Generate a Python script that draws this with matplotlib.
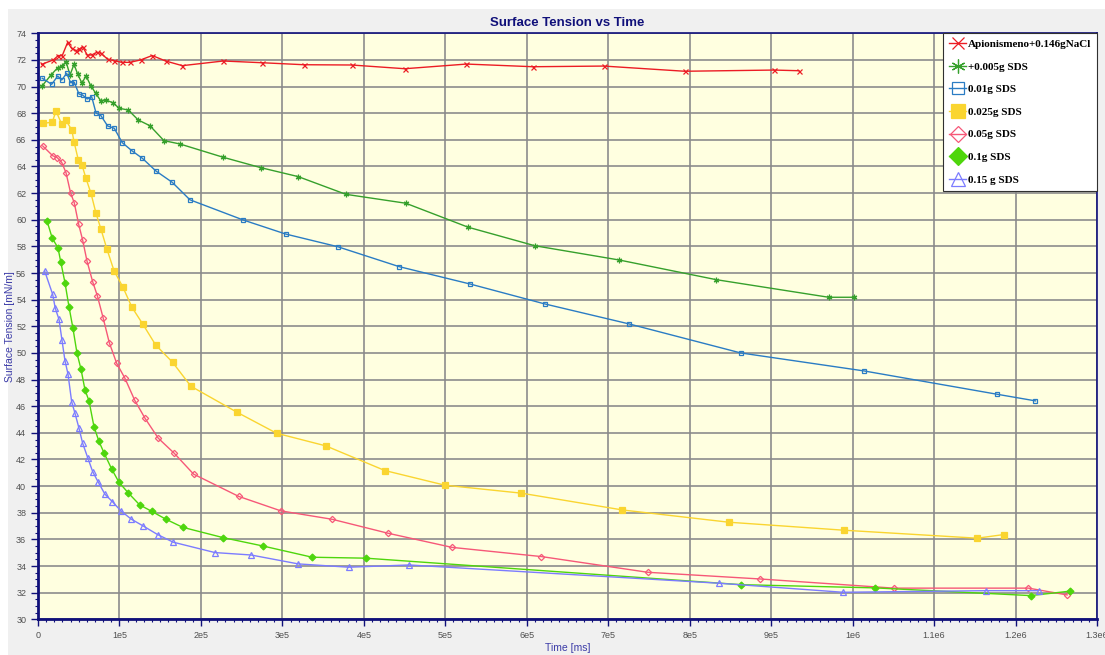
# plot.py  -  Surface Tension vs Time

import numpy as np
import matplotlib
matplotlib.use("Agg")
import matplotlib.pyplot as plt
from matplotlib.ticker import MultipleLocator
from matplotlib.patches import Rectangle

# data (time in ms, surface tension in mN/m) ######################################################
t_nacl = [4.5e3, 18.8e3, 24.9e3, 29.8e3, 36.4e3, 41.3e3, 46.6e3, 50.7e3, 54.8e3, 60.5e3, 65.9e3,
          72.0e3, 77.3e3, 85.5e3, 93.6e3, 102.7e3, 112.9e3, 126.0e3, 140.2e3, 156.7e3, 177.1e3,
          227.4e3, 275.2e3, 326.4e3, 384.9e3, 450.3e3, 526.0e3, 607.7e3, 694.5e3, 793.9e3,
          903.1e3, 934.1e3]
st_nacl = [71.67, 72.0, 72.33, 72.33, 73.32, 72.87, 72.69, 72.82, 72.99, 72.37, 72.37,
           72.57, 72.50, 72.05, 71.94, 71.82, 71.82, 72.0, 72.33, 71.92, 71.57,
           71.92, 71.79, 71.64, 71.62, 71.34, 71.69, 71.49, 71.54, 71.15,
           71.24, 71.19]

t_005 = [5.3e3, 16.0e3, 24.2e3, 29.1e3, 34.4e3, 39.3e3, 44.2e3, 48.7e3, 54.0e3, 58.9e3, 64.7e3,
         70.8e3, 76.9e3, 83.4e3, 91.7e3, 99.8e3, 110.8e3, 123.1e3, 137.4e3, 154.6e3, 174.2e3,
         227.4e3, 273.6e3, 319.4e3, 377.9e3, 451.5e3, 528.0e3, 609.8e3, 713.3e3, 832.7e3,
         970.6e3, 1001.6e3]
st_005 = [70.07, 70.87, 71.42, 71.52, 71.87, 70.87, 71.67, 70.94, 70.25, 70.82, 70.07,
          69.5, 68.94, 68.99, 68.79, 68.37, 68.24, 67.49, 67.06, 65.94, 65.69,
          64.69, 63.91, 63.24, 61.91, 61.24, 59.44, 58.05, 56.98, 55.5,
          54.18, 54.18]

t_01 = [5.3e3, 16.8e3, 24.2e3, 29.1e3, 35.2e3, 40.1e3, 44.5e3, 50.3e3, 54.8e3, 60.5e3, 65.9e3,
        71.2e3, 77.3e3, 85.5e3, 93.6e3, 103.4e3, 115.7e3, 128.2e3, 144.8e3, 164.8e3, 186.5e3,
        252.0e3, 303.9e3, 367.7e3, 443.3e3, 530.1e3, 622.1e3, 725.5e3, 862.6e3, 1013.9e3,
        1177.1e3, 1224.5e3]
st_01 = [70.62, 70.17, 70.79, 70.49, 71.0, 70.29, 70.32, 69.44, 69.36, 69.07, 69.24,
         68.02, 67.81, 67.04, 66.87, 65.79, 65.16, 64.61, 63.66, 62.81, 61.5,
         59.98, 58.93, 57.98, 56.48, 55.18, 53.68, 52.18, 50.0, 48.65,
         46.9, 46.4]

t_025 = [5.8e3, 17.5e3, 22.1e3, 29.1e3, 34.0e3, 41.5e3, 44.2e3, 49.5e3, 54.0e3, 58.9e3, 65.0e3,
         71.2e3, 77.3e3, 84.7e3, 93.3e3, 104.3e3, 115.3e3, 128.8e3, 144.4e3, 165.2e3, 187.7e3,
         244.2e3, 292.9e3, 353.4e3, 425.8e3, 499.4e3, 593.5e3, 717.4e3, 847.9e3, 989.0e3,
         1153.0e3, 1185.3e3]
st_025 = [67.24, 67.32, 68.17, 67.17, 67.49, 66.74, 65.86, 64.49, 64.11, 63.11, 61.99,
          60.49, 59.29, 57.78, 56.18, 54.93, 53.43, 52.15, 50.6, 49.3, 47.5,
          45.55, 43.97, 43.02, 41.17, 40.07, 39.47, 38.21, 37.29, 36.69,
          36.09, 36.36]

t_05 = [5.8e3, 18.0e3, 23.6e3, 29.1e3, 34.4e3, 40.1e3, 44.5e3, 49.9e3, 54.8e3, 60.1e3, 67.1e3,
        72.8e3, 80.1e3, 87.5e3, 96.6e3, 106.7e3, 118.7e3, 131.3e3, 147.6e3, 167.2e3, 191.0e3,
        246.3e3, 298.2e3, 361.1e3, 429.8e3, 508.3e3, 618.0e3, 748.5e3, 885.9e3, 1050.6e3,
        1215.9e3, 1263.4e3]
st_05 = [65.54, 64.81, 64.66, 64.31, 63.53, 61.99, 61.28, 59.66, 58.48, 56.91, 55.35,
         54.3, 52.6, 50.77, 49.22, 48.1, 46.45, 45.1, 43.6, 42.47, 40.9,
         39.23, 38.14, 37.51, 36.46, 35.4, 34.71, 33.53, 33.03, 32.34,
         32.34, 31.83]

t_1 = [11.0e3, 17.5e3, 24.5e3, 27.9e3, 33.1e3, 38.0e3, 42.9e3, 47.9e3, 52.8e3, 57.7e3, 62.6e3,
       68.7e3, 74.8e3, 81.3e3, 90.4e3, 99.4e3, 110.8e3, 124.8e3, 139.5e3, 157.1e3, 177.5e3,
       227.4e3, 275.7e3, 336.6e3, 402.5e3, 863.4e3, 1027.0e3, 1218.4e3, 1266.3e3]
st_1 = [59.93, 58.61, 57.9, 56.85, 55.28, 53.48, 51.85, 49.97, 48.78, 47.22, 46.4,
        44.47, 43.36, 42.46, 41.29, 40.29, 39.49, 38.59, 38.11, 37.51, 36.91,
        36.13, 35.51, 34.66, 34.59, 32.6, 32.36, 31.78, 32.11]

t_15 = [8.2e3, 18.0e3, 21.2e3, 25.8e3, 29.4e3, 33.1e3, 36.8e3, 41.3e3, 45.4e3, 50.3e3, 54.8e3,
        61.0e3, 67.1e3, 73.6e3, 82.2e3, 91.2e3, 101.8e3, 114.5e3, 128.8e3, 146.9e3, 166.0e3,
        217.2e3, 261.3e3, 319.4e3, 381.6e3, 455.6e3, 835.6e3, 988.1e3, 1164.1e3, 1228.2e3]
st_15 = [56.15, 54.4, 53.35, 52.52, 50.97, 49.42, 48.42, 46.34, 45.47, 44.35, 43.22,
         42.14, 41.09, 40.34, 39.39, 38.84, 38.14, 37.52, 37.02, 36.36, 35.79,
         35.01, 34.83, 34.16, 33.91, 34.08, 32.71, 32.03, 32.15, 32.15]

series_labels = ["Apionismeno+0.146gNaCl", "+0.005g SDS", "0.01g SDS", "0.025g SDS",
                 "0.05g SDS", "0.1g SDS", "0.15 g SDS"]

x_ticks = np.arange(0, 1.3e6 + 1, 1e5)
x_tick_labels = ["0", "1e5", "2e5", "3e5", "4e5", "5e5", "6e5", "7e5", "8e5", "9e5",
                 "1e6", "1.1e6", "1.2e6", "1.3e6"]
y_ticks = np.arange(30, 75, 2)

# module level style ##############################################################################
NAVY = "#10107a"
LABEL_BLUE = "#3c3ca8"
NARROW = ["Liberation Sans Narrow", "Liberation Sans", "DejaVu Sans"]


###################################################################################################
def main():
    fig = plt.figure(figsize=(11.05, 6.55), dpi=100, facecolor="white")

    # light gray panel behind the chart (white strip left and top)
    fig.patches.append(Rectangle((8 / 1105, 0), 1.0, 1 - 9 / 655, transform=fig.transFigure,
                                 facecolor="#f0f0f0", edgecolor="none", zorder=-10))

    ax = fig.add_axes([38 / 1105, 1 - 619.3 / 655, (1097 - 38) / 1105, (619.3 - 33.3) / 655])
    ax.set_facecolor("#ffffe0")

    # (x, y, colour, marker, size, filled)
    styles = [
        (t_nacl, st_nacl, "#ec1c24", "x", 3.6, True),
        (t_005, st_005, "#36a02c", (6, 2, 0), 4.0, True),
        (t_01, st_01, "#2a7cc4", "s", 3.4, False),
        (t_025, st_025, "#fad530", "s", 4.0, True),
        (t_05, st_05, "#f65878", "D", 3.2, False),
        (t_1, st_1, "#4ed60c", "D", 3.5, True),
        (t_15, st_15, "#7c7cff", "^", 3.8, False),
    ]
    for (xs, ys, col, mk, ms, filled), lab in zip(styles, series_labels):
        ax.plot(xs, ys, color=col, lw=1.0, marker=mk, markersize=ms,
                markerfacecolor=col if filled else "none", markeredgecolor=col,
                markeredgewidth=0.9, label=lab)

    ax.set_xlim(0, 1.3e6)
    ax.set_ylim(30, 74)
    ax.set_xticks(x_ticks)
    ax.set_xticklabels(x_tick_labels)
    ax.set_yticks(y_ticks)
    ax.xaxis.set_minor_locator(MultipleLocator(1e4))
    ax.yaxis.set_minor_locator(MultipleLocator(0.5))

    ax.grid(True, which="major", color="#8a8a8a", lw=1.3, alpha=0.9)
    ax.set_axisbelow(True)

    ax.tick_params(which="major", direction="out", length=5, width=1, color=NAVY,
                   labelsize=6.5, labelcolor="#505050")
    ax.tick_params(which="minor", direction="out", length=2.5, width=0.8, color=NAVY)
    for lbl in ax.get_xticklabels() + ax.get_yticklabels():
        lbl.set_family(NARROW)

    for side in ["left", "bottom"]:
        ax.spines[side].set_color(NAVY)
        ax.spines[side].set_linewidth(2.0)
    for side in ["top", "right"]:
        ax.spines[side].set_color(NAVY)
        ax.spines[side].set_linewidth(1.2)

    ax.set_title("Surface Tension vs Time", fontsize=9.5, fontweight="bold", color=NAVY,
                 family=NARROW, pad=5)
    ax.set_xlabel("Time [ms]", fontsize=7.5, color=LABEL_BLUE, family=NARROW, labelpad=2)
    ax.set_ylabel("Surface Tension [mN/m]", fontsize=7.5, color=LABEL_BLUE, family=NARROW,
                  labelpad=1)

    leg = ax.legend(loc="upper right", borderaxespad=0.0, fancybox=False, framealpha=1.0,
                    edgecolor="#303030", markerscale=2.5, handlelength=1.5, handletextpad=0.15,
                    labelspacing=1.15, borderpad=0.55,
                    prop={"family": ["Liberation Serif", "DejaVu Serif"], "weight": "bold",
                          "size": 8.0})
    leg.get_frame().set_linewidth(0.8)

    fig.savefig("out.png", dpi=100, facecolor=fig.get_facecolor())
    return


###################################################################################################
if __name__ == "__main__":
    main()
# end if
